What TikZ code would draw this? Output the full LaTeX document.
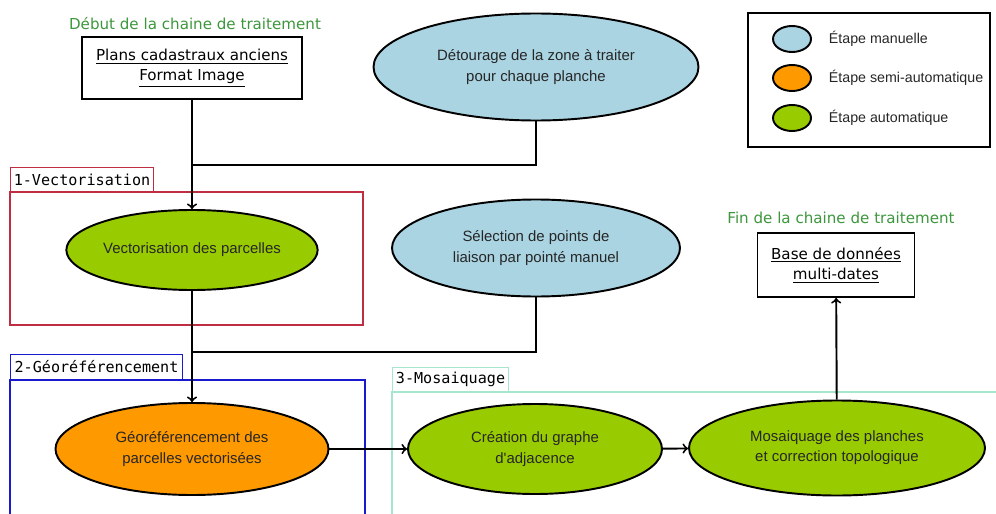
\documentclass[tikz,border=0pt]{standalone}
\usepackage{fontspec}
\setmainfont{DejaVu Sans}
\setmonofont{DejaVu Sans Mono}
\newfontfamily\arialfont{Liberation Sans}
\usepackage{tikz}
\usetikzlibrary{shapes,positioning}
\definecolor{bleuman}{RGB}{170,212,226}
\definecolor{orsemi}{RGB}{255,153,0}
\definecolor{vertauto}{RGB}{153,204,0}
\definecolor{vertitre}{RGB}{60,150,60}
\definecolor{rougecadre}{RGB}{190,45,65}
\definecolor{bleucadre}{RGB}{25,25,205}
\definecolor{menthe}{RGB}{165,230,205}
\tikzset{ell/.style={ellipse,draw,line width=1.1pt,inner sep=0pt,align=center,text=black!85,font=\arialfont\fontsize{8.5}{11.5}\selectfont},
  ellman/.style={ell,fill=bleuman},
  ellsemi/.style={ell,fill=orsemi},
  ellauto/.style={ell,fill=vertauto},
  boite/.style={rectangle,draw,line width=1.1pt,fill=white,align=center,font=\fontsize{8.6}{11.5}\selectfont},
  titre/.style={text=vertitre,font=\fontsize{8.6}{10}\selectfont},
  etiq/.style={rectangle,draw,line width=0.6pt,anchor=south west,inner sep=0pt,font=\ttfamily\fontsize{8.6}{10}\selectfont},
  legtxt/.style={text=black!85,inner sep=0pt,font=\arialfont\fontsize{8.1}{10}\selectfont}}

\begin{document}
\begin{tikzpicture}[>=to,line width=1.1pt]
        \useasboundingbox (0,0) rectangle (19.92,-10.28);
        \clip (0,0) rectangle (19.92,-10.28);

        % cadres
        \draw[rougecadre,line width=0.6pt] (0.2,-3.84) rectangle (7.26,-6.5);
        \node[etiq,draw=rougecadre,minimum width=2.86cm,minimum height=0.48cm] (lab1) at (0.2,-3.84) {1-Vectorisation};
        \draw[bleucadre,line width=0.6pt] (0.2,-7.6) rectangle (7.3,-10.6);
        \node[etiq,draw=bleucadre,minimum width=3.44cm,minimum height=0.5cm] (lab2) at (0.2,-7.6) {2-Géoréférencement};
        \draw[menthe,line width=0.6pt] (7.84,-7.84) rectangle (20.5,-10.6);
        \node[etiq,draw=menthe,minimum width=2.32cm,minimum height=0.48cm] (lab3) at (7.84,-7.84) {3-Mosaiquage};

        % legende
        \draw (14.96,-0.26) rectangle (19.8,-2.94);
        \node[ellman,minimum width=0.76cm,minimum height=0.52cm] (lman) at (15.84,-0.78) {};
        \node[ellsemi,minimum width=0.76cm,minimum height=0.52cm] (lsemi) at (15.84,-1.56) {};
        \node[ellauto,minimum width=0.76cm,minimum height=0.52cm] (lauto) at (15.84,-2.36) {};
        \node[legtxt,right=0.32cm of lman] (tman) {Étape manuelle};
        \node[legtxt,right=0.32cm of lsemi] (tsemi) {Étape semi-automatique};
        \node[legtxt,right=0.32cm of lauto] (tauto) {Étape automatique};

        % etapes
        \node[titre] (debut) at (3.9,-0.48) {Début de la chaine de traitement};
        \node[boite,minimum width=4.4cm,minimum height=1.24cm] (plans) at (3.84,-1.36) {\underline{Plans cadastraux anciens}\\\underline{Format Image}};
        \node[ellman,minimum width=6.5cm,minimum height=2.14cm] (detour) at (10.72,-1.34) {Détourage de la zone à traiter\\pour chaque planche};
        \node[ellauto,minimum width=4.86cm,minimum height=1.6cm] (vect) at (3.84,-5.0) {Vectorisation des parcelles};
        \node[ellman,minimum width=5.76cm,minimum height=1.94cm] (select) at (10.72,-4.96) {Sélection de points de\\liaison par pointé manuel};
        \node[ellsemi,minimum width=5.46cm,minimum height=1.84cm] (georef) at (3.84,-8.98) {Géoréférencement des\\parcelles vectorisées};
        \node[ellauto,minimum width=5.08cm,minimum height=1.8cm] (graphe) at (10.7,-8.98) {Création du graphe\\d'adjacence};
        \node[ellauto,minimum width=5.92cm,minimum height=1.9cm] (mosa) at (16.74,-8.96) {Mosaiquage des planches\\et correction topologique};
        \node[titre] (fin) at (16.82,-4.36) {Fin de la chaine de traitement};
        \node[boite,minimum width=3.14cm,minimum height=1.28cm] (base) at (16.72,-5.3) {\underline{Base de données}\\\underline{multi-dates}};

        \coordinate (j1) at (3.84,-3.3);
        \coordinate (j2) at (3.84,-7.04);

        \draw [->] (plans) -- (vect);
        \draw (detour.south) |- (j1);
        \draw [->] (vect) -- (georef);
        \draw (select.south) |- (j2);
        \draw [->] (georef) -- (graphe);
        \draw [->] (graphe) -- (mosa);
        \draw [->] (mosa) -- (base);
    \end{tikzpicture}
\end{document}
